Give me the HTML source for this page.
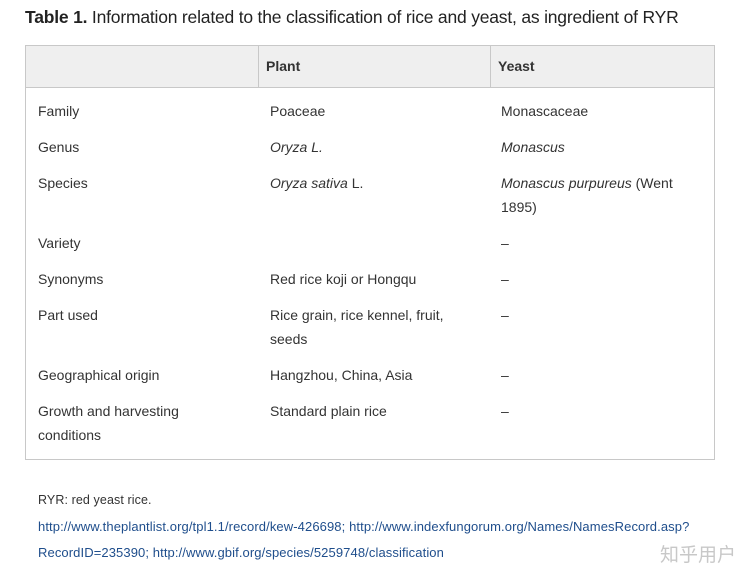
<!DOCTYPE html>
<html><head><meta charset="utf-8"><style>
body{margin:0;width:739px;height:580px;background:#fff;font-family:"Liberation Sans",sans-serif;color:#333;position:relative;overflow:hidden}
.a{position:absolute;white-space:nowrap;font-size:14px;line-height:24px}
#title{position:absolute;left:25px;top:7px;font-size:17.5px;color:#222;white-space:nowrap;letter-spacing:-0.2px}
#tbl{position:absolute;left:25px;top:45px;width:688px;height:413px;border:1px solid #c8c8c8}
#hdr{position:absolute;left:0;top:0;width:688px;height:41px;background:#efefef;border-bottom:1px solid #c8c8c8}
.dv{position:absolute;top:0;width:1px;height:41px;background:#c8c8c8}
.f{position:absolute;left:38px;font-size:13px;white-space:nowrap;letter-spacing:0.1px}
.l{color:#1f4e8c}
</style></head><body>
<div id="title"><b>Table 1.</b> Information related to the classification of rice and yeast, as ingredient of RYR</div>
<div id="tbl">
<div id="hdr">
<div class="dv" style="left:232px"></div><div class="dv" style="left:464px"></div>
<div class="a" style="left:240px;top:8px;font-weight:bold;color:#333">Plant</div>
<div class="a" style="left:472px;top:8px;font-weight:bold;color:#333">Yeast</div>
</div>
</div>
<div>
<div class="a" style="left:38px;top:99px">Family</div><div class="a" style="left:270px;top:99px">Poaceae</div><div class="a" style="left:501px;top:99px">Monascaceae</div>
<div class="a" style="left:38px;top:135px">Genus</div><div class="a" style="left:270px;top:135px"><i>Oryza L.</i></div><div class="a" style="left:501px;top:135px"><i>Monascus</i></div>
<div class="a" style="left:38px;top:171px">Species</div><div class="a" style="left:270px;top:171px"><i>Oryza sativa</i> L.</div><div class="a" style="left:501px;top:171px"><i>Monascus purpureus</i> (Went<br>1895)</div>
<div class="a" style="left:38px;top:231px">Variety</div><div class="a" style="left:501px;top:231px">–</div>
<div class="a" style="left:38px;top:267px">Synonyms</div><div class="a" style="left:270px;top:267px">Red rice koji or Hongqu</div><div class="a" style="left:501px;top:267px">–</div>
<div class="a" style="left:38px;top:303px">Part used</div><div class="a" style="left:270px;top:303px">Rice grain, rice kennel, fruit,<br>seeds</div><div class="a" style="left:501px;top:303px">–</div>
<div class="a" style="left:38px;top:363px">Geographical origin</div><div class="a" style="left:270px;top:363px">Hangzhou, China, Asia</div><div class="a" style="left:501px;top:363px">–</div>
<div class="a" style="left:38px;top:399px">Growth and harvesting<br>conditions</div><div class="a" style="left:270px;top:399px">Standard plain rice</div><div class="a" style="left:501px;top:399px">–</div>
</div>
<div class="f" style="top:493px;font-size:12.5px">RYR: red yeast rice.</div>
<div class="f l" style="top:519px">http://www.theplantlist.org/tpl1.1/record/kew-426698; http://www.indexfungorum.org/Names/NamesRecord.asp?</div>
<div class="f l" style="top:545px">RecordID=235390; http://www.gbif.org/species/5259748/classification</div>
<div style="position:absolute;left:660px;top:540px;font-size:19px;color:#c8c8c8;font-family:'Noto Sans CJK SC',sans-serif">知乎用户</div>
</body></html>
